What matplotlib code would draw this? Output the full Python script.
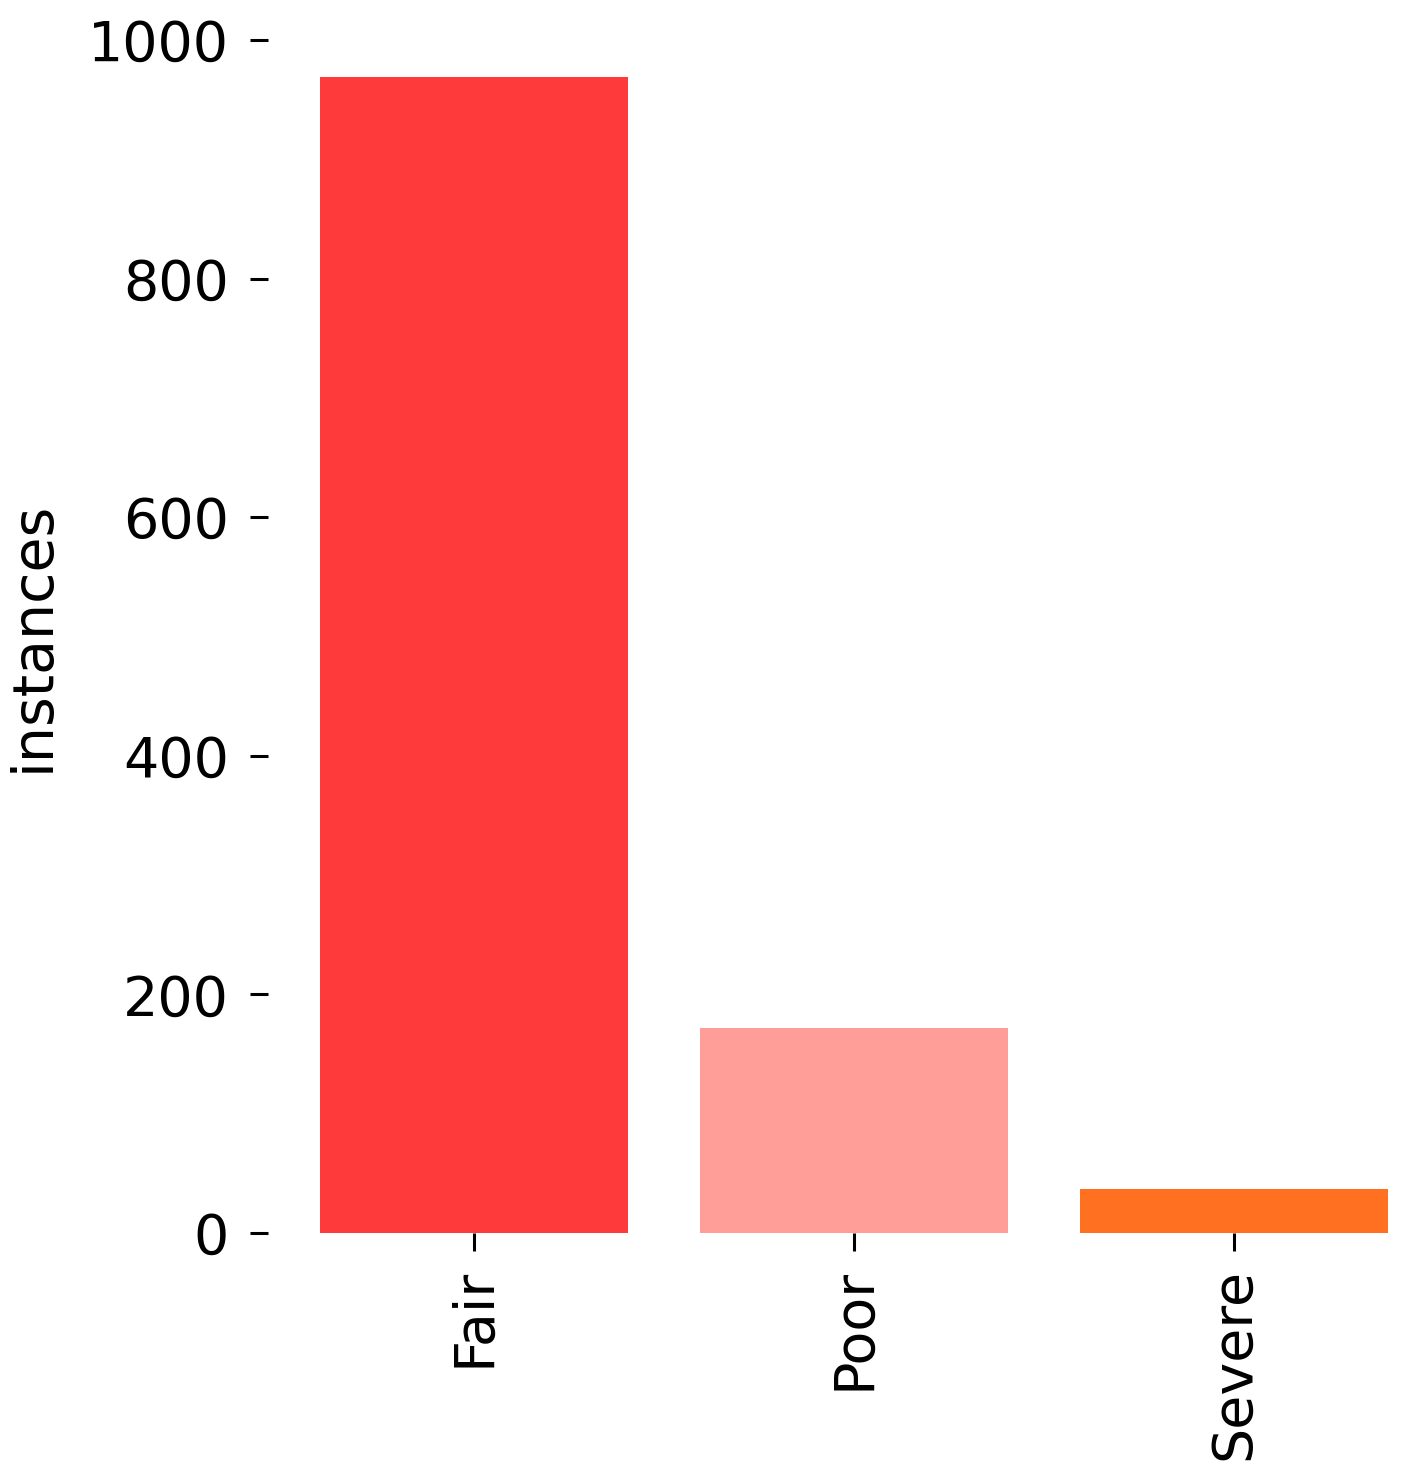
import matplotlib
matplotlib.use('Agg')
import matplotlib.pyplot as plt

categories = ['Fair', 'Poor', 'Severe']
counts = [969, 172, 37]
colors = ['#ff3a3a', '#ff9e98', '#ff7020']

W, H, DPI = 1404, 1478, 100
fig = plt.figure(figsize=(W / DPI, H / DPI), dpi=DPI)

# axes placed in pixel terms to match the reference
left, right, top, bottom = 268, 1404, 40, 1233
ax = fig.add_axes([left / W, (H - bottom) / H, (right - left) / W, (bottom - top) / H])

x = range(len(categories))
ax.bar(x, counts, width=0.81, color=colors)

ax.set_xlim(-0.542, 2.447)
ax.set_ylim(0, 1000)
ax.set_yticks([0, 200, 400, 600, 800, 1000])
ax.set_xticks(list(x))
ax.set_xticklabels(categories, rotation=90)

for s in ax.spines.values():
    s.set_visible(False)

ax.tick_params(axis='both', labelsize=40, length=13, width=2.2, pad=15)
ax.tick_params(axis='x', pad=12)
ax.set_ylabel('instances', fontsize=41, labelpad=20)

fig.savefig('out.png', dpi=DPI)
